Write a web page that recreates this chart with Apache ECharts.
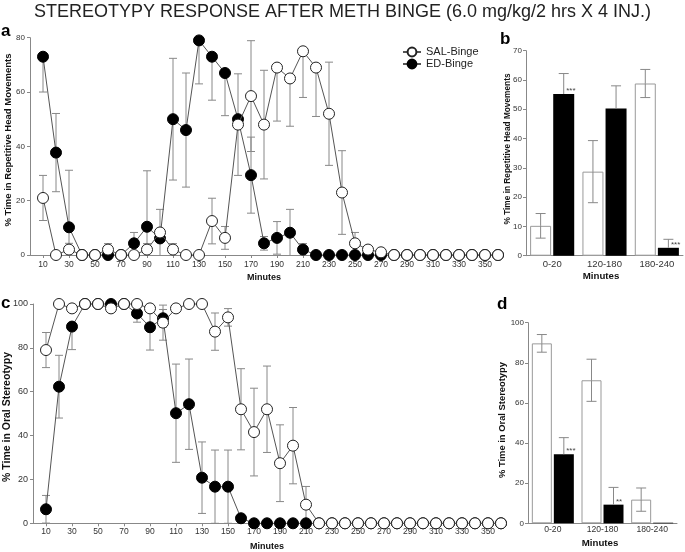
<!DOCTYPE html>
<html><head><meta charset="utf-8">
<script src="https://cdn.jsdelivr.net/npm/echarts@6/dist/echarts.min.js"></script>
<style>html,body{margin:0;padding:0;background:#fff}#c{width:685px;height:552px}</style>
</head><body><div id="c"></div>
<script>
// ---- data ----
const minutes = [10,20,30,40,50,60,70,80,90,100,110,120,130,140,150,160,170,180,190,200,210,220,230,240,250,260,270,280,290,300,310,320,330,340,350,360];
const minuteTicks = [10,30,50,70,90,110,130,150,170,190,210,230,250,270,290,310,330,350];

const salHead    = [21,0,2,0,0,2,0,0,2,8.3,2,0,0,12.5,6.3,48,58.5,48,69,65,75,69,52,23,4.3,2,1,0,0,0,0,0,0,0,0,0];
const salHeadErr = [8.3,0,2.3,0,0,2.2,0,0,2.2,8.5,2.2,0,0,8.4,4.2,18.7,20.4,20,19.7,17.6,17,18,19,15.4,4,0,0,0,0,0,0,0,0,0,0,0];
const edHead     = [73,37.7,10.2,0,0,0,0,4.3,10.4,6.1,50,46,79,73,67,50,29.4,4.3,6.3,8.2,2,0,0,0,0,0,0,0,0,0,0,0,0,0,0,0];
const edHeadErr  = [13,14.4,21,0,0,0,0,4,20.6,0,22.4,21,16,16,15.7,0,14,2.5,6,8.6,2.2,0,0,0,0,0,0,0,0,0,0,0,0,0,0,0];

const salOral    = [79,100,98,100,100,98,100,100,98,91.5,98,100,100,87.4,93.9,52,41.6,52,27.4,35.4,8.5,0,0,0,0,0,0,0,0,0,0,0,0,0,0,0];
const salOralErr = [8,0,0,0,0,0,0,0,0,8,0,0,0,8.5,4,18.5,20,19.7,17.5,17.4,8.3,0,0,0,0,0,0,0,0,0,0,0,0,0,0,0];
const edOral     = [6.4,62.3,89.7,100,100,100,100,95.7,89.4,93.5,50.2,54.3,20.8,16.7,16.7,2.3,0,0,0,0,0,0,0,0,0,0,0,0,0,0,0,0,0,0,0,0];
const edOralErr  = [6.3,14.3,10.5,0,0,0,0,4,10.4,4,22.4,20.6,16.3,16.7,16.7,0,0,0,0,0,0,0,0,0,0,0,0,0,0,0,0,0,0,0,0,0];

const groups = ['0-20','120-180','180-240'];
const salHeadBar = [10.2,28.7,58.8];
const salHeadBarErr = [4.2,10.6,4.8];
const edHeadBar = [55.2,50.3,2.7];
const edHeadBarErr = [7,7.7,2.9];
const headStars = ['***','','***'];

const salOralBar = [89.7,71.3,11.8];
const salOralBarErr = [4.4,10.5,5.8];
const edOralBar = [34.4,9.3,0.3];
const edOralBarErr = [8.3,8.6,0];
const oralStars = ['***','**',''];

// ---- chart ----
const FONT = '"Liberation Sans", Arial, Helvetica, sans-serif';
const AXC = '#888';
const LBC = '#333';
const chart = echarts.init(document.getElementById('c'), null, {renderer:'canvas'});

function pts(xs, ys){ return xs.map((x,i)=>[x, ys[i]]); }
function pts3(xs, ys, es){ return xs.map((x,i)=>[x, ys[i], es[i]]); }

function errLines(c, hi, lo, drawHiCap, drawLoCap, hw, color){
  const st = {stroke: color, lineWidth: 1};
  const ch = [];
  if (hi) {
    ch.push({type:'line', shape:{x1:c[0],y1:c[1],x2:hi[0],y2:hi[1]}, style:st});
    if (drawHiCap) ch.push({type:'line', shape:{x1:hi[0]-hw,y1:hi[1],x2:hi[0]+hw,y2:hi[1]}, style:st});
  }
  if (lo) {
    ch.push({type:'line', shape:{x1:c[0],y1:c[1],x2:lo[0],y2:lo[1]}, style:st});
    if (drawLoCap) ch.push({type:'line', shape:{x1:lo[0]-hw,y1:lo[1],x2:lo[0]+hw,y2:lo[1]}, style:st});
  }
  return ch;
}

function errSeries(xi, yi, data, ymax){
  return {
    type:'custom', xAxisIndex:xi, yAxisIndex:yi, z:2, silent:true, animation:false,
    data: data, encode:{x:0, y:1},
    renderItem: function(params, api){
      const x = api.value(0), y = api.value(1), e = api.value(2);
      if (!e) return null;
      const c = api.coord([x, y]);
      let hi = null;
      if (y + e <= ymax) hi = api.coord([x, y + e]);
      const lov = y - e;
      const lo = api.coord([x, Math.max(lov, 0)]);
      return {type:'group', children: errLines(c, hi, lo, true, lov >= 0, 4, '#888')};
    }
  };
}

function barErrSeries(xi, yi, vals, errs, offset, upOnly){
  return {
    type:'custom', xAxisIndex:xi, yAxisIndex:yi, z:5, silent:true, animation:false,
    data: vals.map((v,i)=>[i, v, errs[i]]), encode:{x:0, y:1},
    renderItem: function(params, api){
      const i = api.value(0), v = api.value(1), e = api.value(2);
      if (!e) return null;
      const c0 = api.coord([i, v]);
      const c = [c0[0] + offset, c0[1]];
      const h0 = api.coord([i, v + e]);
      const hi = [h0[0] + offset, h0[1]];
      let lo = null;
      if (!upOnly) { const l0 = api.coord([i, Math.max(v - e, 0)]); lo = [l0[0] + offset, l0[1]]; }
      return {type:'group', children: errLines(c, hi, lo, true, true, 5, '#888')};
    }
  };
}

function lineSeries(name, xi, yi, data, open, z){
  return {
    name: name, type:'line', xAxisIndex:xi, yAxisIndex:yi, z:z, animation:false,
    data: data, symbol:'circle', symbolSize:11, showAllSymbol:true, clip:false,
    lineStyle:{color:'#555', width:1},
    itemStyle: open ? {color:'#fff', borderColor:'#222', borderWidth:1}
                    : {color:'#000', borderColor:'#000', borderWidth:1},
    emphasis:{disabled:true}
  };
}

const valueX = (gi) => ({
  type:'value', gridIndex:gi, min:0, max:360,
  axisLine:{show:true, lineStyle:{color:AXC, width:1}},
  axisTick:{show:true, customValues:minuteTicks, length:3, lineStyle:{color:AXC}},
  axisLabel:{customValues:minuteTicks, fontSize:8.5, color:LBC, margin: gi===0 ? 5 : 4, fontFamily:FONT},
  splitLine:{show:false}
});
const valueY = (gi, max, interval, fs, margin) => ({
  type:'value', gridIndex:gi, min:0, max:max, interval:interval,
  axisLine:{show:true, lineStyle:{color:AXC, width:1}},
  axisTick:{show:true, length:3, lineStyle:{color:AXC}},
  axisLabel:{fontSize:fs, color:LBC, margin:margin, fontFamily:FONT},
  splitLine:{show:false}
});
const catX = (gi, fs, margin) => ({
  type:'category', gridIndex:gi, data:groups,
  axisLine:{show:true, lineStyle:{color:AXC, width:1}},
  axisTick:{show:false},
  axisLabel:{fontSize:fs, color:LBC, margin:margin, fontFamily:FONT, interval:0},
  splitLine:{show:false}
});

const BWB = 21, BWD = 20;

function txt(text, x, y, size, opts){
  opts = opts || {};
  return {
    type:'text', x:x, y:y, rotation: opts.rot ? Math.PI/2 : 0, silent:true,
    style:{text:text, font:(opts.bold===false?'':'bold ') + size + 'px ' + FONT,
           fill: opts.fill || '#111', align: opts.align || 'center', verticalAlign:'middle'}
  };
}

const option = {
  backgroundColor:'#fff',
  animation:false,
  title:{
    text:'STEREOTYPY RESPONSE AFTER METH BINGE (6.0 mg/kg/2 hrs X 4 INJ.)',
    left:'center', top:3, padding:0,
    textStyle:{fontSize:18, fontWeight:'normal', color:'#222', fontFamily:FONT}
  },
  legend:{
    data:['SAL-Binge','ED-Binge'], orient:'vertical', left:402, top:46.5,
    itemWidth:18, itemHeight:11, itemGap:1, padding:0, selectedMode:false,
    textStyle:{fontSize:11, color:'#222', fontFamily:FONT}
  },
  grid:[
    {left:30, top:37.7, width:468, height:217.3},
    {left:526, top:50.7, width:157, height:205},
    {left:33, top:304, width:468, height:219.3},
    {left:528, top:322.7, width:149, height:200.6}
  ],
  xAxis:[ valueX(0), catX(1, 9.5, 4), valueX(2), catX(3, 8.6, 2) ],
  yAxis:[ valueY(0, 80, 20, 8, 5), valueY(1, 70, 10, 8, 4), valueY(2, 100, 20, 9, 5), valueY(3, 100, 20, 8, 4) ],
  graphic:[
    txt('a', 1, 31, 17, {align:'left', fill:'#000'}),
    txt('b', 500, 39, 17, {align:'left', fill:'#000'}),
    txt('c', 1, 303, 17, {align:'left', fill:'#000'}),
    txt('d', 497, 304, 17, {align:'left', fill:'#000'}),
    txt('% Time in Repetitive Head Movements', 8, 140, 9.5, {rot:true}),
    txt('% Time in Repetitive Head Movements', 507.5, 149, 8.3, {rot:true}),
    txt('% Time in Oral Stereotypy', 7, 417, 10.5, {rot:true}),
    txt('% Time in Oral Stereotypy', 502, 420, 9.4, {rot:true}),
    txt('Minutes', 264, 278, 9),
    txt('Minutes', 601, 276, 9.7),
    txt('Minutes', 267, 547, 9),
    txt('Minutes', 600, 543, 9.7)
  ],
  series:[
    // panel a
    errSeries(0, 0, pts3(minutes, edHead, edHeadErr), 80),
    errSeries(0, 0, pts3(minutes, salHead, salHeadErr), 80),
    lineSeries('ED-Binge', 0, 0, pts(minutes, edHead), false, 3),
    lineSeries('SAL-Binge', 0, 0, pts(minutes, salHead), true, 4),
    // panel c
    errSeries(2, 2, pts3(minutes, edOral, edOralErr), 100),
    errSeries(2, 2, pts3(minutes, salOral, salOralErr), 100),
    lineSeries('ED-Binge', 2, 2, pts(minutes, edOral), false, 3),
    lineSeries('SAL-Binge', 2, 2, pts(minutes, salOral), true, 4),
    // panel b
    {type:'bar', name:'SAL-Binge', xAxisIndex:1, yAxisIndex:1, data:salHeadBar, barWidth:BWB, barGap:'10%', z:3,
     itemStyle:{color:'#fff', borderColor:'#999', borderWidth:1}, emphasis:{disabled:true}},
    {type:'bar', name:'ED-Binge', xAxisIndex:1, yAxisIndex:1, data:edHeadBar, barWidth:BWB, barGap:'10%', z:3,
     itemStyle:{color:'#000'}, emphasis:{disabled:true},
     label:{show:true, formatter:(p)=>headStars[p.dataIndex], position:['62%', -3], align:'left', verticalAlign:'middle',
            fontSize:8, color:'#444', fontFamily:FONT}},
    barErrSeries(1, 1, salHeadBar, salHeadBarErr, -(BWB*1.1)/2, false),
    barErrSeries(1, 1, edHeadBar, edHeadBarErr, (BWB*1.1)/2, true),
    // panel d
    {type:'bar', name:'SAL-Binge', xAxisIndex:3, yAxisIndex:3, data:salOralBar, barWidth:BWD, barGap:'10%', z:3,
     itemStyle:{color:'#fff', borderColor:'#999', borderWidth:1}, emphasis:{disabled:true}},
    {type:'bar', name:'ED-Binge', xAxisIndex:3, yAxisIndex:3, data:edOralBar, barWidth:BWD, barGap:'10%', z:3,
     itemStyle:{color:'#000'}, emphasis:{disabled:true},
     label:{show:true, formatter:(p)=>oralStars[p.dataIndex], position:['62%', -3], align:'left', verticalAlign:'middle',
            fontSize:8, color:'#444', fontFamily:FONT}},
    barErrSeries(3, 3, salOralBar, salOralBarErr, -(BWD*1.1)/2, false),
    barErrSeries(3, 3, edOralBar, edOralBarErr, (BWD*1.1)/2, true)
  ]
};
chart.setOption(option);
</script></body></html>
